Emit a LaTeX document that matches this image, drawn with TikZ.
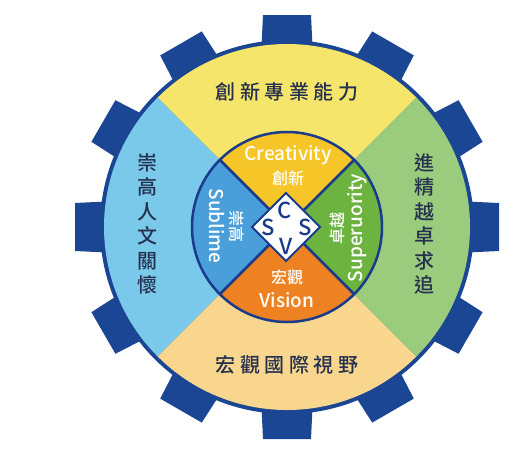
\documentclass[tikz,border=0pt]{standalone}
\usepackage{fontspec}
\setmainfont{Noto Sans CJK TC}[BoldFont={* Medium}]
\definecolor{gearblue}{HTML}{1B4693}
\definecolor{capyellow}{HTML}{F5E56A}
\definecolor{capblue}{HTML}{7BC9EA}
\definecolor{capgreen}{HTML}{9BCB7D}
\definecolor{capsand}{HTML}{F8D68E}
\definecolor{csvyellow}{HTML}{F6C528}
\definecolor{csvblue}{HTML}{4A9ED9}
\definecolor{csvgreen}{HTML}{6CB43F}
\definecolor{csvorange}{HTML}{EE8121}
\definecolor{linenavy}{HTML}{1A3A8C}
\definecolor{textnavy}{HTML}{25304F}

\begin{document}
\begin{tikzpicture}[x=1pt,y=1pt]

\tikzstyle{outer} = [text=textnavy, font=\fontsize{20}{24.5}\selectfont\bfseries, align=center]
\tikzstyle{inner} = [text=white, font=\fontsize{19}{20}\selectfont\bfseries]
\tikzstyle{innerzh} = [text=white, font=\fontsize{16}{18}\selectfont\bfseries]
\tikzstyle{letter} = [text=linenavy, font=\fontsize{22}{22}\selectfont\bfseries]
\useasboundingbox (0,0) rectangle (529,-459);
\coordinate (O) at (287,-227);

\begin{scope}[shift={(O)}]
% gear teeth
\foreach \a in {0,30,...,330}
  \fill[gearblue, rotate=\a] (170,-26) -- (212,-24) -- (212,24) -- (170,26) -- cycle;
\fill[gearblue] (0,0) circle (187);
% outer quarters
\fill[capyellow] (0,0) -- (45:183) arc[start angle=45, end angle=135, radius=183] -- cycle;
\fill[capblue] (0,0) -- (135:183) arc[start angle=135, end angle=225, radius=183] -- cycle;
\fill[capsand] (0,0) -- (225:183) arc[start angle=225, end angle=315, radius=183] -- cycle;
\fill[capgreen] (0,0) -- (315:183) arc[start angle=315, end angle=405, radius=183] -- cycle;
% inner quarters
\fill[csvyellow] (0,0) -- (45:95) arc[start angle=45, end angle=135, radius=95] -- cycle;
\fill[csvblue] (0,0) -- (135:95) arc[start angle=135, end angle=225, radius=95] -- cycle;
\fill[csvorange] (0,0) -- (225:95) arc[start angle=225, end angle=315, radius=95] -- cycle;
\fill[csvgreen] (0,0) -- (315:95) arc[start angle=315, end angle=405, radius=95] -- cycle;
\draw[linenavy, line width=2.5] (0,0) circle (95);
\draw[linenavy, line width=2.5] (45:95) -- (225:95);
\draw[linenavy, line width=2.5] (135:95) -- (315:95);
% centre diamond
\draw[linenavy, line width=2, fill=white] (-1,34) -- (33,0) -- (-1,-34) -- (-35,0) -- cycle;
\node (c) [letter] at (-2,17) {C};
\node (sl) [letter] at (-19,0) {S};
\node (sr) [letter] at (18,0) {S};
\node (v) [letter] at (-1,-19) {V};

\node (creativity) [inner] at (1,72) {Creativity};
\node (chuangxin) [innerzh] at (1,49) {創新};
\node (hongguan) [innerzh] at (0,-50) {宏觀};
\node (vision) [inner] at (0,-73) {Vision};
\node (sublime) [inner, rotate=-90] at (-70,1) {Sublime};
\node (chonggao) [innerzh, rotate=-90] at (-50,1) {崇高};
\node (zhuoyue) [innerzh, rotate=90] at (50,-1) {卓越};
\node (superuority) [inner, rotate=90] at (70,-1) {Superuority};

\node (capa) [outer] at (0,135) {創\hspace{4.5pt}新\hspace{4.5pt}專\hspace{4.5pt}業\hspace{4.5pt}能\hspace{4.5pt}力};
\node (capv) [outer] at (0,-138) {宏\hspace{4.5pt}觀\hspace{4.5pt}國\hspace{4.5pt}際\hspace{4.5pt}視\hspace{4.5pt}野};
\node (caps) [outer] at (-140,3) {崇\\高\\人\\文\\關\\懷};
\node (capr) [outer] at (137,3) {進\\精\\越\\卓\\求\\追};
\end{scope}
\end{tikzpicture}
\end{document}
